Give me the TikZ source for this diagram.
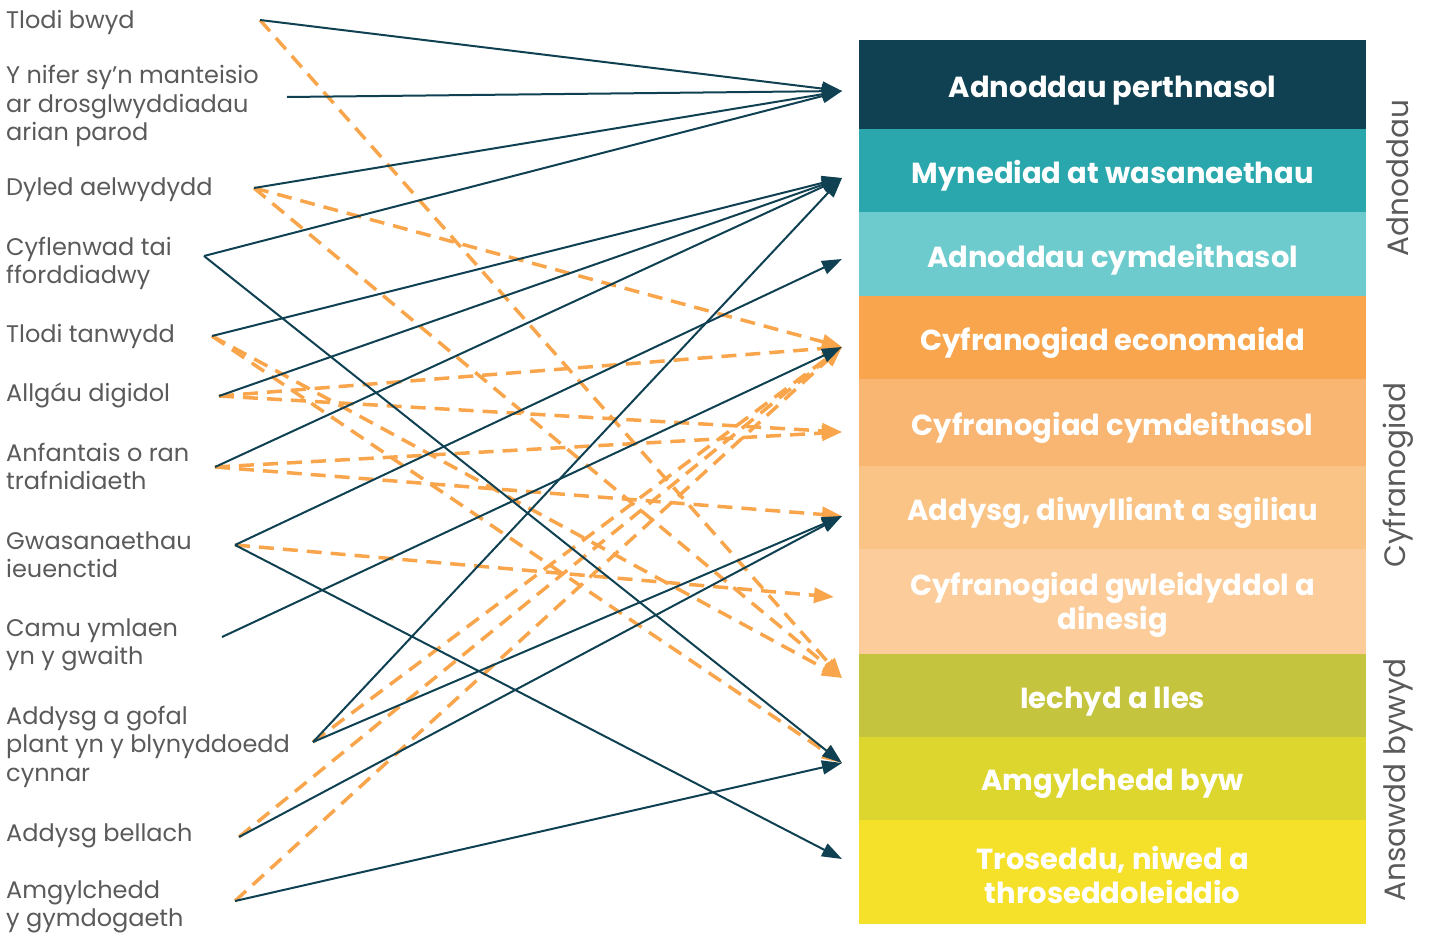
\documentclass[tikz,border=0pt]{standalone}
\usepackage{fontspec}
\setmainfont{Poppins}
\usetikzlibrary{arrows.meta}
\definecolor{navy}{HTML}{0F4152}
\definecolor{dashorange}{HTML}{F9A54C}
\definecolor{labgray}{HTML}{5A5A5A}
\definecolor{cA}{HTML}{0F4152}
\definecolor{cB}{HTML}{2AA6AD}
\definecolor{cC}{HTML}{6DCBCD}
\definecolor{cD}{HTML}{F8A54D}
\definecolor{cE}{HTML}{F9B673}
\definecolor{cF}{HTML}{FBC487}
\definecolor{cG}{HTML}{FCCD9B}
\definecolor{cH}{HTML}{C4C43E}
\definecolor{cI}{HTML}{DDD62F}
\definecolor{cJ}{HTML}{F6E12A}
\newcommand{\lblines}[1]{\vtop{\halign{##\hfil\cr#1\crcr}}}
\begin{document}
\begin{tikzpicture}[x=1pt,y=-1pt,
  lab/.style={anchor=base west, font=\fontsize{24}{28.5}\selectfont, text=labgray, inner sep=0pt},
  barbox/.style={minimum width=507pt, inner sep=0pt, anchor=north west, draw=none},
  bartext/.style={text=white, font=\fontsize{29}{34.5}\selectfont\bfseries, align=center, inner sep=0pt},
  solidarrow/.style={draw=navy, line width=2pt, -{Triangle[length=20pt,width=14pt]}},
  dasharrow/.style={draw=dashorange, line width=3.5pt, dash pattern=on 15pt off 9pt, -{Triangle[length=20pt,width=15pt]}},
  side/.style={rotate=90, font=\fontsize{29.5}{30}\selectfont, text=labgray, inner sep=0pt}]
\useasboundingbox (0,0) rectangle (1432,934);
% left labels
\node[lab] (l1) at (6,29) {Tlodi bwyd};
\node[lab] (l2) at (6,84) {\lblines{Y nifer sy’n manteisio\cr ar drosglwyddiadau\cr arian parod}};
\node[lab] (l3) at (6,195) {Dyled aelwydydd};
\node[lab] (l4) at (6,255) {\lblines{Cyflenwad tai\cr fforddiadwy}};
\node[lab] (l5) at (6,342) {Tlodi tanwydd};
\node[lab] (l6) at (6,401) {Allgáu digidol};
\node[lab] (l7) at (6,461) {\lblines{Anfantais o ran\cr trafnidiaeth}};
\node[lab] (l8) at (6,549) {\lblines{Gwasanaethau\cr ieuenctid}};
\node[lab] (l9) at (6,636) {\lblines{Camu ymlaen\cr yn y gwaith}};
\node[lab] (l10) at (6,724) {\lblines{Addysg a gofal\cr plant yn y blynyddoedd\cr cynnar}};
\node[lab] (l11) at (6,841) {Addysg bellach};
\node[lab] (l12) at (6,898) {\lblines{Amgylchedd\cr y gymdogaeth}};
% right bars
\node[barbox, fill=cA, minimum height=89pt] (b1) at (859,40) {};
\node[barbox, fill=cB, minimum height=83pt] (b2) at (859,129) {};
\node[barbox, fill=cC, minimum height=84pt] (b3) at (859,212) {};
\node[barbox, fill=cD, minimum height=83pt] (b4) at (859,296) {};
\node[barbox, fill=cE, minimum height=87pt] (b5) at (859,379) {};
\node[barbox, fill=cF, minimum height=83pt] (b6) at (859,466) {};
\node[barbox, fill=cG, minimum height=105pt] (b7) at (859,549) {};
\node[barbox, fill=cH, minimum height=83pt] (b8) at (859,654) {};
\node[barbox, fill=cI, minimum height=83pt] (b9) at (859,737) {};
\node[barbox, fill=cJ, minimum height=104pt] (b10) at (859,820) {};
\node[bartext] (b1t) at ([yshift=-5.5pt]b1.center) {Adnoddau perthnasol};
\node[bartext] (b2t) at ([yshift=-5.5pt]b2.center) {Mynediad at wasanaethau};
\node[bartext] (b3t) at ([yshift=-5.5pt]b3.center) {Adnoddau cymdeithasol};
\node[bartext] (b4t) at ([yshift=-5.5pt]b4.center) {Cyfranogiad economaidd};
\node[bartext] (b5t) at ([yshift=-5.5pt]b5.center) {Cyfranogiad cymdeithasol};
\node[bartext] (b6t) at ([yshift=-5.5pt]b6.center) {Addysg, diwylliant a sgiliau};
\node[bartext] (b7t) at ([yshift=-3pt]b7.center) {Cyfranogiad gwleidyddol a\\dinesig};
\node[bartext] (b8t) at ([yshift=-5.5pt]b8.center) {Iechyd a lles};
\node[bartext] (b9t) at ([yshift=-5.5pt]b9.center) {Amgylchedd byw};
\node[bartext] (b10t) at ([yshift=-3pt]b10.center) {Troseddu, niwed a\\throseddoleiddio};
% side labels
\node[side] (g1) at (1398,178) {Adnoddau};
\node[side] (g2) at (1398,475) {Cyfranogiad};
\node[side] (g3) at (1398,780) {Ansawdd bywyd};
% connector ends
\coordinate (s1) at (260,20);
\coordinate (s2) at (287,97);
\coordinate (s3) at (254,188);
\coordinate (s4) at (204,256);
\coordinate (s5) at (212,336);
\coordinate (s6) at (219,396);
\coordinate (s7) at (215,467);
\coordinate (s8) at (235,545);
\coordinate (s9) at (222,637);
\coordinate (s10) at (313,742);
\coordinate (s11) at (239,837);
\coordinate (s12) at (235,901);
\coordinate (t1) at (842,91);
\coordinate (t2) at (842,178);
\coordinate (t3) at (842,259);
\coordinate (t4) at (842,347);
\coordinate (t5) at (842,432);
\coordinate (t6) at (842,516);
\coordinate (t7) at (834,597);
\coordinate (t8) at (842,678);
\coordinate (t9) at (842,763);
\coordinate (t10) at (842,859);
% dashed
\draw[dasharrow] (s1) -- (t8);
\draw[dasharrow] (s3) -- (t4);
\draw[dasharrow] (s3) -- (t8);
\draw[dasharrow] (s5) -- (t8);
\draw[dasharrow] (s5) -- (t9);
\draw[dasharrow] (s6) -- (t4);
\draw[dasharrow] (s6) -- (t5);
\draw[dasharrow] (s7) -- (t5);
\draw[dasharrow] (s7) -- (t6);
\draw[dasharrow] (s8) -- (t7);
\draw[dasharrow] (s10) -- (t4);
\draw[dasharrow] (s11) -- (t4);
\draw[dasharrow] (s12) -- (t4);
% solid
\draw[solidarrow] (s1) -- (t1);
\draw[solidarrow] (s2) -- (t1);
\draw[solidarrow] (s3) -- (t1);
\draw[solidarrow] (s4) -- (t1);
\draw[solidarrow] (s4) -- (t9);
\draw[solidarrow] (s5) -- (t2);
\draw[solidarrow] (s6) -- (t2);
\draw[solidarrow] (s7) -- (t2);
\draw[solidarrow] (s8) -- (t3);
\draw[solidarrow] (s8) -- (t10);
\draw[solidarrow] (s9) -- (t4);
\draw[solidarrow] (s10) -- (t2);
\draw[solidarrow] (s10) -- (t6);
\draw[solidarrow] (s11) -- (t6);
\draw[solidarrow] (s12) -- (t9);
\end{tikzpicture}
\end{document}
